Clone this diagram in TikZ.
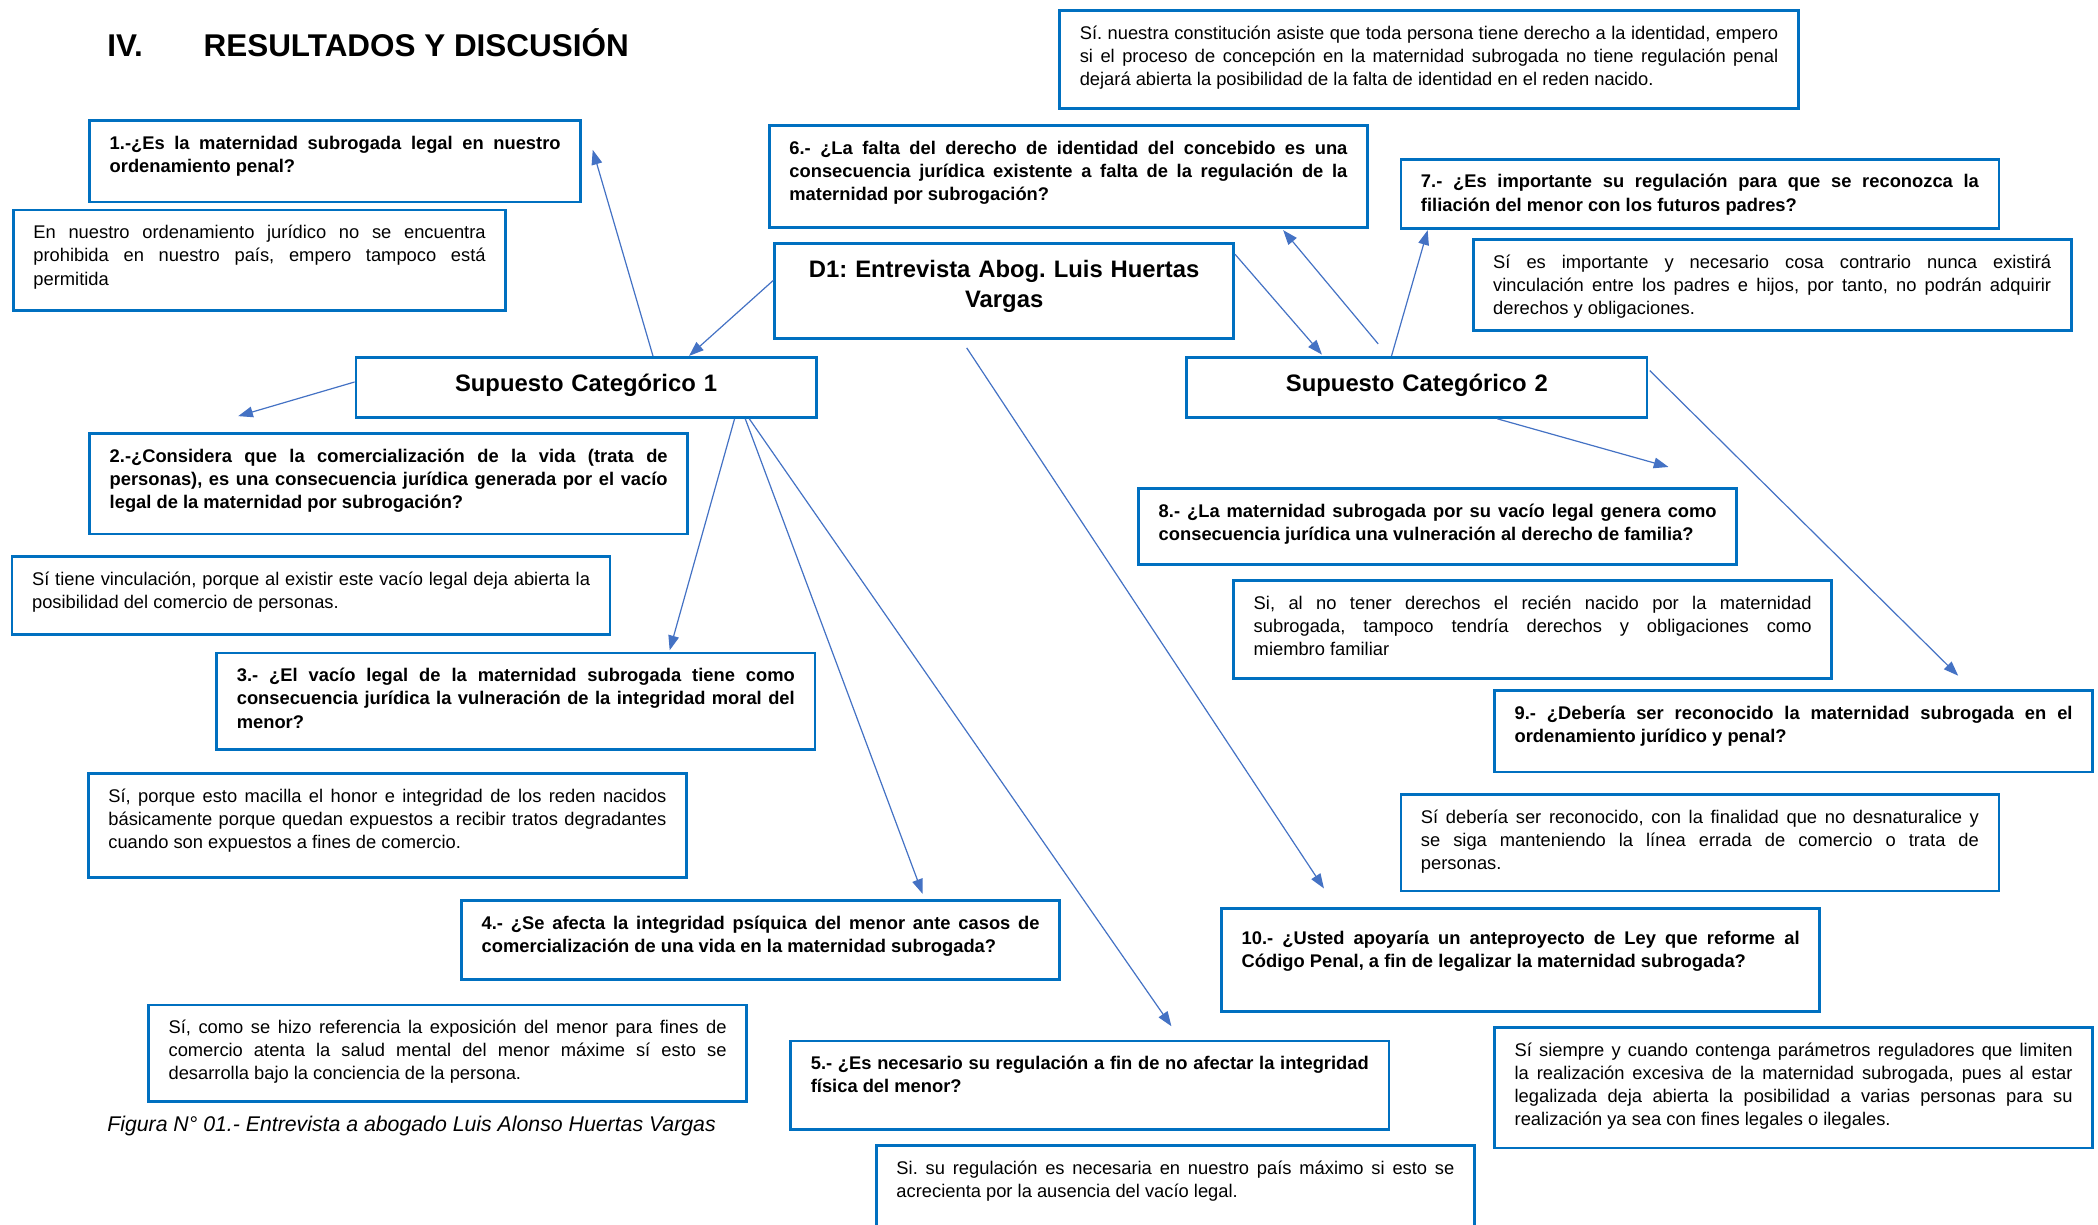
\documentclass[tikz,border=0pt]{standalone}
\usepackage{fontspec}
\setmainfont{Liberation Sans}
\usepackage{tikz}
\usetikzlibrary{arrows.meta}
\definecolor{boxblue}{RGB}{0,112,192}
\definecolor{linkblue}{RGB}{68,114,196}
\frenchspacing
\hyphenpenalty=10000
\exhyphenpenalty=10000
\tolerance=9999
\hbadness=10000

\begin{document}
\begin{tikzpicture}[x=1pt,y=-1pt,>={Triangle[length=11pt,width=8pt]}]
\tikzstyle{qbox}=[draw=boxblue,line width=2pt,anchor=north west,inner xsep=15pt,inner ysep=0pt,text width=417pt,align=justify,text height=21.5pt,font=\fontsize{13.7}{17.3}\selectfont\bfseries];
\tikzstyle{abox}=[qbox,font=\fontsize{13.7}{17.3}\selectfont];
\tikzstyle{mainbox}=[qbox,align=center,text width=314pt,text height=25.5pt,font=\fontsize{17.8}{22}\selectfont\bfseries];
\tikzstyle{heading}=[anchor=base west,inner sep=0pt,font=\fontsize{23.5}{28}\selectfont\bfseries];
\tikzstyle{link}=[->,draw=linkblue,line width=0.9pt];
\clip (0,0) rectangle (1568,915);
% heading
    \node[heading] (secnum) at (80,42) {IV.};
    \node[heading] (sectitle) at (152,42) {RESULTADOS Y DISCUSIÓN};
% centre
    \node[mainbox,text width=313pt,text depth=45.5pt] (d1) at (578,181) {D1: Entrevista Abog. Luis Huertas\\ Vargas};
    \node[mainbox,text depth=19.5pt] (sc1) at (265,266) {Supuesto Categórico 1};
    \node[mainbox,text depth=19.5pt] (sc2) at (886,266) {Supuesto Categórico 2};
% questions and answers, category 1
    \node[qbox,text width=337pt,text depth=39.5pt] (q1) at (66,89) {1.-¿Es la maternidad subrogada legal en nuestro\linebreak ordenamiento penal?};
    \node[abox,text width=338pt,text depth=53.5pt] (a1) at (9,156) {En nuestro ordenamiento jurídico no se encuentra\linebreak prohibida en nuestro país, empero tampoco está\linebreak permitida};
    \node[qbox,text depth=53.5pt] (q2) at (66,323) {2.-¿Considera que la comercialización de la vida (trata de\linebreak personas), es una consecuencia jurídica generada por el vacío\linebreak legal de la maternidad por subrogación?};
    \node[abox,text depth=36.5pt] (a2) at (8,415) {Sí tiene vinculación, porque al existir este vacío legal deja abierta la\linebreak posibilidad del comercio de personas.};
    \node[qbox,text depth=50.5pt] (q3) at (161,487) {3.- ¿El vacío legal de la maternidad subrogada tiene como\linebreak consecuencia jurídica la vulneración de la integridad moral del\linebreak menor?};
    \node[abox,text depth=56.5pt] (a3) at (65,577) {Sí, porque esto macilla el honor e integridad de los reden nacidos\linebreak básicamente porque quedan expuestos a recibir tratos degradantes\linebreak cuando son expuestos a fines de comercio.};
    \node[qbox,text depth=37.5pt] (q4) at (344,672) {4.- ¿Se afecta la integridad psíquica del menor ante casos de\linebreak comercialización de una vida en la maternidad subrogada?};
    \node[abox,text depth=50.5pt] (a4) at (110,750) {Sí, como se hizo referencia la exposición del menor para fines de\linebreak comercio atenta la salud mental del menor máxime sí esto se\linebreak desarrolla bajo la conciencia de la persona.};
    \node[qbox,text depth=44.5pt] (q5) at (590,777) {5.- ¿Es necesario su regulación a fin de no afectar la integridad\linebreak física del menor?};
    \node[abox,text depth=58.5pt] (a5) at (654,855) {Si. su regulación es necesaria en nuestro país máximo si esto se\linebreak acrecienta por la ausencia del vacío legal.};
% questions and answers, category 2
    \node[abox,text width=522pt,text depth=51.5pt] (a6) at (791,7) {Sí. nuestra constitución asiste que toda persona tiene derecho a la identidad, empero\linebreak si el proceso de concepción en la maternidad subrogada no tiene regulación penal\linebreak dejará abierta la posibilidad de la falta de identidad en el reden nacido.};
    \node[qbox,text depth=54.5pt] (q6) at (574,93) {6.- ¿La falta del derecho de identidad del concebido es una\linebreak consecuencia jurídica existente a falta de la regulación de la\linebreak maternidad por subrogación?};
    \node[qbox,text depth=30.5pt] (q7) at (1046,118) {7.- ¿Es importante su regulación para que se reconozca la\linebreak filiación del menor con los futuros padres?};
    \node[abox,text depth=46.5pt] (a7) at (1100,178) {Sí es importante y necesario cosa contrario nunca existirá\linebreak vinculación entre los padres e hijos, por tanto, no podrán adquirir\linebreak derechos y obligaciones.};
    \node[qbox,text depth=35.5pt] (q8) at (850,364) {8.- ¿La maternidad subrogada por su vacío legal genera como\linebreak consecuencia jurídica una vulneración al derecho de familia?};
    \node[abox,text depth=51.5pt] (a8) at (921,433) {Si, al no tener derechos el recién nacido por la maternidad\linebreak subrogada, tampoco tendría derechos y obligaciones como\linebreak miembro familiar};
    \node[qbox,text depth=39.5pt] (q9) at (1116,515) {9.- ¿Debería ser reconocido la maternidad subrogada en el\linebreak ordenamiento jurídico y penal?};
    \node[abox,text depth=50.5pt] (a9) at (1046,593) {Sí debería ser reconocido, con la finalidad que no desnaturalice y\linebreak se siga manteniendo la línea errada de comercio o trata de\linebreak personas.};
    \node[qbox,text height=27pt,text depth=50pt] (q10) at (912,678) {10.- ¿Usted apoyaría un anteproyecto de Ley que reforme al\linebreak Código Penal, a fin de legalizar la maternidad subrogada?};
    \node[abox,text depth=68.5pt] (a10) at (1116,767) {Sí siempre y cuando contenga parámetros reguladores que limiten\linebreak la realización excesiva de la maternidad subrogada, pues al estar\linebreak legalizada deja abierta la posibilidad a varias personas para su\linebreak realización ya sea con fines legales o ilegales.};
% caption
    \node[anchor=base west,inner sep=0pt,font=\fontsize{15.9}{19}\selectfont\itshape] (caption) at (80,846) {Figura N° 01.- Entrevista a abogado Luis Alonso Huertas Vargas};
% arrows
    \draw[link] ([shift={(50,0)}]sc1.north) -- ([shift={(8,23)}]q1.north east);
    \draw[link] ([shift={(0,-8)}]d1.west) -- ([shift={(77,0)}]sc1.north);
    \draw[link] ([shift={(0,-4)}]sc1.west) -- ([shift={(112,-12)}]q2.north west);
    \draw[link] ([shift={(111,0)}]sc1.south) -- ([shift={(115,-1)}]q3.north);
    \draw[link] ([shift={(119,0)}]sc1.south) -- ([shift={(121,-4)}]q4.north);
    \draw[link] ([shift={(122,0)}]sc1.south) -- ([shift={(61,-10)}]q5.north);
    \draw[link] ([shift={(-28,6)}]d1.south) -- ([shift={(-147,-14)}]q10.north);
    \draw[link] ([shift={(0,9)}]d1.north east) -- ([shift={(-71,-1)}]sc2.north);
    \draw[link] ([shift={(-29,-9)}]sc2.north) -- ([shift={(-64,1)}]q6.south east);
    \draw[link] ([shift={(-19,0)}]sc2.north) -- ([shift={(21,0)}]q7.south west);
    \draw[link] ([shift={(60,0)}]sc2.south) -- ([shift={(-52,-15)}]q8.north east);
    \draw[link] ([shift={(1,11)}]sc2.north east) -- ([shift={(123,-10)}]q9.north);
\end{tikzpicture}
\end{document}
